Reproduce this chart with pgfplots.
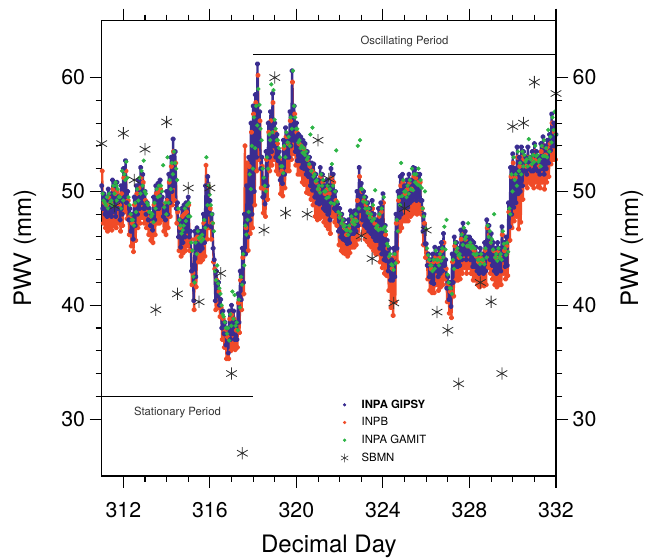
\documentclass[border=0pt]{standalone}
\usepackage{fontspec}
\setmainfont{TeX Gyre Heros}
\usepackage{pgfplots}
\pgfplotsset{compat=1.18}
\definecolor{gipsy}{RGB}{58,45,145}
\definecolor{inpb}{RGB}{240,75,40}
\definecolor{gamit}{RGB}{45,180,70}
\definecolor{sbmn}{RGB}{45,45,45}

\pgfplotsset{
  pwvaxis/.style={
    width=340.7pt, height=341.5pt, scale only axis,
    xmin=311, xmax=332, ymin=25, ymax=65,
    xtick={312,316,...,332}, minor x tick num=3,
    ytick={30,40,50,60}, minor y tick num=4,
    tick align=outside,
    major tick length=9pt, minor tick length=4.5pt,
    axis line style={line width=1.1pt},
    every tick/.style={black, line width=0.8pt},
    /pgf/number format/assume math mode=true,
    ticklabel style={font=\fontsize{16}{16}\selectfont},
    label style={font=\fontsize{18}{18}\selectfont},
  }
}

\begin{document}
\begin{tikzpicture}
\begin{axis}[pwvaxis, name=ax, clip=false,
    xtick pos=both, ytick pos=both,
    xticklabel pos=lower, yticklabel pos=left,
    xticklabel style={yshift=-7pt},
    xlabel={Decimal Day},
    xlabel style={at={(axis description cs:0.5,-0.1685)}, anchor=base},
    ylabel={PWV (mm)},
    ylabel style={at={(axis description cs:-0.169,0.5)}, anchor=center, rotate=0},
    legend style={at={(axis cs:321.86,32.2)}, anchor=north west, draw=none, fill=none,
      font=\fontsize{8.5}{9}\selectfont, row sep=1.5pt,
      /tikz/every odd column/.append style={column sep=8pt}},
    legend cell align=left,
]
\addlegendimage{only marks, mark=*, color=gipsy, mark size=1pt}
\addlegendentry{\textbf{INPA GIPSY}}
\addlegendimage{only marks, mark=*, color=inpb, mark size=1pt}
\addlegendentry{INPB}
\addlegendimage{only marks, mark=*, color=gamit, mark size=1pt}
\addlegendentry{INPA GAMIT}
\addlegendimage{only marks, mark=asterisk, color=sbmn, mark size=3.2pt}
\addlegendentry{SBMN}

% INPB
\addplot[forget plot, color=inpb, line width=1.7pt, line join=round, mark=*, mark size=1.2pt] coordinates {
(311.02,51.8)(311.07,47.2)(311.12,49.0)(311.17,46.8)(311.22,48.8)(311.27,46.5)(311.32,49.5)(311.37,46.8)(311.42,49.0)(311.47,46.6)
(311.52,50.2)(311.57,47.0)(311.62,49.8)(311.67,46.8)(311.72,50.0)(311.77,47.2)(311.82,48.8)(311.87,46.5)(311.92,49.8)(311.97,47.0)
(312.02,51.2)(312.07,48.2)(312.12,51.8)(312.17,47.6)(312.22,49.2)(312.27,46.2)(312.32,47.8)(312.37,45.2)(312.42,47.2)(312.47,44.7)
(312.52,48.8)(312.57,45.7)(312.62,49.8)(312.67,46.8)(312.72,50.3)(312.77,47.2)(312.82,51.2)(312.87,47.7)(312.92,50.8)(312.97,47.2)
(313.02,49.2)(313.07,46.8)(313.12,48.2)(313.17,46.2)(313.22,47.8)(313.27,45.7)(313.32,47.2)(313.37,45.5)(313.42,48.8)(313.47,46.2)
(313.52,49.8)(313.57,47.2)(313.62,50.0)(313.67,47.2)(313.72,50.2)(313.77,47.5)(313.82,48.8)(313.87,46.5)(313.92,47.8)(313.97,46.2)
(314.02,49.2)(314.07,46.8)(314.12,50.8)(314.17,47.8)(314.22,52.2)(314.27,48.8)(314.32,53.5)(314.37,49.2)(314.42,52.5)(314.47,47.2)
(314.52,48.2)(314.57,44.8)(314.62,46.8)(314.67,44.3)(314.72,47.8)(314.77,44.6)(314.82,48.0)(314.87,44.8)(314.92,48.2)(314.97,45.2)
(315.02,48.8)(315.07,44.8)(315.12,45.8)(315.17,41.8)(315.22,42.8)(315.27,39.6)(315.32,45.8)(315.37,41.6)(315.42,46.0)(315.47,43.8)
(315.52,45.8)(315.57,43.8)(315.62,45.8)(315.67,44.0)(315.72,47.2)(315.77,44.3)(315.82,52.3)(315.87,45.8)(315.92,50.5)(315.97,46.8)
(316.02,48.5)(316.07,45.8)(316.12,47.2)(316.17,43.8)(316.22,43.2)(316.27,39.6)(316.32,42.2)(316.37,39.8)(316.42,41.2)(316.47,39.0)
(316.52,39.8)(316.57,37.0)(316.62,38.8)(316.67,36.3)(316.72,37.8)(316.77,35.3)(316.82,37.2)(316.87,35.3)(316.92,38.8)(316.97,36.0)
(317.02,39.2)(317.07,36.3)(317.12,38.8)(317.17,36.1)(317.22,37.8)(317.27,36.3)(317.32,40.2)(317.37,37.6)(317.42,42.2)(317.47,39.6)
(317.52,44.2)(317.57,41.0)(317.62,54.0)(317.67,46.8)(317.72,52.5)(317.77,44.8)(317.82,52.2)(317.87,46.3)(317.92,55.2)(317.97,46.8)
(318.02,56.8)(318.07,48.8)(318.12,57.8)(318.17,51.8)(318.22,60.2)(318.27,52.8)(318.32,56.2)(318.37,50.3)(318.42,52.2)(318.47,48.1)
(318.52,50.2)(318.57,47.8)(318.62,52.8)(318.67,49.3)(318.72,55.2)(318.77,51.8)(318.82,56.2)(318.87,52.3)(318.92,57.8)(318.97,52.8)
(319.02,55.2)(319.07,51.8)(319.12,54.2)(319.17,51.5)(319.22,52.8)(319.27,49.8)(319.32,51.8)(319.37,49.6)(319.42,53.8)(319.47,50.3)
(319.52,54.8)(319.57,51.8)(319.62,54.2)(319.67,51.8)(319.72,56.2)(319.77,52.8)(319.82,59.6)(319.87,53.3)(319.92,56.8)(319.97,52.3)
(320.02,55.2)(320.07,51.5)(320.12,54.2)(320.17,51.5)(320.22,54.0)(320.27,50.8)(320.32,53.8)(320.37,50.6)(320.42,53.5)(320.47,49.9)
(320.52,52.8)(320.57,49.8)(320.62,52.2)(320.67,49.3)(320.72,51.8)(320.77,48.8)(320.82,51.6)(320.87,47.8)(320.92,50.8)(320.97,47.5)
(321.02,50.2)(321.07,47.6)(321.12,51.3)(321.17,47.8)(321.22,50.8)(321.27,47.3)(321.32,49.8)(321.37,47.0)(321.42,50.2)(321.47,46.7)
(321.52,49.8)(321.57,46.3)(321.62,51.2)(321.67,47.8)(321.72,50.8)(321.77,47.3)(321.82,49.2)(321.87,47.0)(321.92,48.2)(321.97,45.3)
(322.02,47.8)(322.07,44.8)(322.12,47.2)(322.17,44.6)(322.22,46.8)(322.27,44.5)(322.32,46.2)(322.37,44.3)(322.42,46.8)(322.47,44.6)
(322.52,47.5)(322.57,45.1)(322.62,47.2)(322.67,45.1)(322.72,47.5)(322.77,45.3)(322.82,49.2)(322.87,45.8)(322.92,51.3)(322.97,47.1)
(323.02,50.0)(323.07,46.3)(323.12,49.2)(323.17,45.8)(323.22,48.8)(323.27,45.6)(323.32,48.2)(323.37,45.3)(323.42,47.8)(323.47,45.1)
(323.52,48.5)(323.57,44.8)(323.62,47.2)(323.67,44.5)(323.72,46.8)(323.77,44.5)(323.82,47.8)(323.87,43.8)(323.92,48.2)(323.97,43.3)
(324.02,49.0)(324.07,42.8)(324.12,46.2)(324.17,42.6)(324.22,45.0)(324.27,41.3)(324.32,44.2)(324.37,39.8)(324.42,43.2)(324.47,39.1)
(324.52,44.2)(324.57,40.3)(324.62,47.2)(324.67,43.8)(324.72,49.2)(324.77,46.5)(324.82,50.5)(324.87,46.8)(324.92,50.8)(324.97,47.4)
(325.02,49.8)(325.07,47.4)(325.12,50.2)(325.17,47.4)(325.22,50.8)(325.27,47.8)(325.32,50.2)(325.37,48.0)(325.42,51.3)(325.47,48.3)
(325.52,51.2)(325.57,48.0)(325.62,50.8)(325.67,48.3)(325.72,50.8)(325.77,48.0)(325.82,48.5)(325.87,45.3)(325.92,47.2)(325.97,44.2)
(326.02,44.6)(326.07,42.3)(326.12,43.8)(326.17,41.3)(326.22,43.2)(326.27,41.1)(326.32,43.8)(326.37,41.1)(326.42,44.3)(326.47,41.8)
(326.52,43.8)(326.57,41.3)(326.62,44.2)(326.67,41.6)(326.72,44.8)(326.77,41.8)(326.82,45.5)(326.87,42.3)(326.92,43.2)(326.97,40.3)
(327.02,41.8)(327.07,39.3)(327.12,41.2)(327.17,38.9)(327.22,43.8)(327.27,40.8)(327.32,45.2)(327.37,42.2)(327.42,44.8)(327.47,42.2)
(327.52,44.2)(327.57,42.3)(327.62,45.8)(327.67,42.8)(327.72,46.5)(327.77,43.3)(327.82,45.8)(327.87,42.8)(327.92,45.2)(327.97,43.3)
(328.02,45.2)(328.07,42.8)(328.12,45.0)(328.17,42.2)(328.22,44.8)(328.27,42.2)(328.32,44.3)(328.37,41.8)(328.42,43.8)(328.47,41.6)
(328.52,44.2)(328.57,41.8)(328.62,43.8)(328.67,41.7)(328.72,44.8)(328.77,41.8)(328.82,46.8)(328.87,43.3)(328.92,46.2)(328.97,42.8)
(329.02,45.5)(329.07,42.3)(329.12,44.8)(329.17,41.8)(329.22,44.2)(329.27,41.6)(329.32,44.8)(329.37,41.8)(329.42,44.2)(329.47,41.8)
(329.52,46.2)(329.57,42.8)(329.62,44.8)(329.67,42.3)(329.72,45.2)(329.77,42.6)(329.82,48.2)(329.87,45.7)(329.92,51.3)(329.97,46.8)
(330.02,52.5)(330.07,47.4)(330.12,51.2)(330.17,47.8)(330.22,53.0)(330.27,46.7)(330.32,52.2)(330.37,47.3)(330.42,53.0)(330.47,49.3)
(330.52,52.8)(330.57,50.6)(330.62,52.2)(330.67,50.3)(330.72,53.0)(330.77,50.8)(330.82,52.2)(330.87,50.6)(330.92,52.8)(330.97,50.3)
(331.02,53.5)(331.07,50.8)(331.12,52.8)(331.17,50.4)(331.22,52.2)(331.27,50.3)(331.32,53.5)(331.37,50.8)(331.42,54.0)(331.47,50.2)
(331.52,53.2)(331.57,50.8)(331.62,53.8)(331.67,51.3)(331.72,54.2)(331.77,52.4)(331.82,56.0)(331.87,52.8)(331.92,55.2)(331.97,52.8)
};

% INPA GIPSY
\addplot[forget plot, color=gipsy, line width=1.7pt, line join=round, mark=*, mark size=1.2pt] coordinates {
(311.00,50.5)(311.05,48.5)(311.10,49.8)(311.15,48.0)(311.20,49.5)(311.25,47.8)(311.30,50.2)(311.35,48.0)(311.40,49.8)(311.45,47.8)
(311.50,51.0)(311.55,48.2)(311.60,50.5)(311.65,47.8)(311.70,50.8)(311.75,48.5)(311.80,49.5)(311.85,47.5)(311.90,50.5)(311.95,48.0)
(312.00,52.0)(312.05,49.5)(312.10,52.7)(312.15,49.0)(312.20,50.0)(312.25,47.5)(312.30,48.5)(312.35,46.5)(312.40,48.0)(312.45,45.8)
(312.50,49.5)(312.55,47.0)(312.60,50.5)(312.65,48.0)(312.70,51.0)(312.75,48.5)(312.80,52.1)(312.85,49.0)(312.90,51.5)(312.95,48.5)
(313.00,50.0)(313.05,48.0)(313.10,49.0)(313.15,47.5)(313.20,48.5)(313.25,47.0)(313.30,48.0)(313.35,46.6)(313.40,49.5)(313.45,47.5)
(313.50,50.5)(313.55,48.5)(313.60,50.7)(313.65,48.5)(313.70,51.0)(313.75,48.8)(313.80,49.5)(313.85,47.8)(313.90,48.5)(313.95,47.5)
(314.00,50.0)(314.05,48.0)(314.10,51.5)(314.15,49.0)(314.20,53.0)(314.25,50.0)(314.30,54.6)(314.35,50.5)(314.40,53.5)(314.45,48.5)
(314.50,49.0)(314.55,46.0)(314.60,47.5)(314.65,45.1)(314.70,48.5)(314.75,45.5)(314.80,48.8)(314.85,46.0)(314.90,49.0)(314.95,46.5)
(315.00,49.5)(315.05,46.0)(315.10,46.5)(315.15,43.0)(315.20,43.5)(315.25,40.4)(315.30,46.5)(315.35,42.5)(315.40,46.8)(315.45,45.0)
(315.50,46.5)(315.55,44.8)(315.60,46.5)(315.65,45.0)(315.70,48.0)(315.75,45.5)(315.80,50.5)(315.85,47.0)(315.90,51.3)(315.95,48.0)
(316.00,49.2)(316.05,46.9)(316.10,48.0)(316.15,45.0)(316.20,44.0)(316.25,40.4)(316.30,43.0)(316.35,40.8)(316.40,42.0)(316.45,40.0)
(316.50,40.5)(316.55,38.0)(316.60,39.5)(316.65,37.5)(316.70,38.5)(316.75,36.5)(316.80,38.0)(316.85,35.8)(316.90,39.5)(316.95,37.0)
(317.00,40.0)(317.05,37.5)(317.10,39.5)(317.15,37.0)(317.20,38.5)(317.25,37.0)(317.30,41.0)(317.35,38.5)(317.40,43.0)(317.45,40.5)
(317.50,45.0)(317.55,42.0)(317.60,48.0)(317.65,44.5)(317.70,50.5)(317.75,46.0)(317.80,53.0)(317.85,47.5)(317.90,56.0)(317.95,48.0)
(318.00,57.5)(318.05,50.0)(318.10,58.5)(318.15,53.0)(318.20,61.2)(318.25,54.0)(318.30,57.0)(318.35,52.0)(318.40,53.0)(318.45,49.5)
(318.50,51.0)(318.55,48.9)(318.60,53.5)(318.65,50.5)(318.70,56.0)(318.75,53.0)(318.80,57.0)(318.85,53.5)(318.90,58.6)(318.95,54.0)
(319.00,56.0)(319.05,53.0)(319.10,55.0)(319.15,52.7)(319.20,53.5)(319.25,51.0)(319.30,52.5)(319.35,50.7)(319.40,54.5)(319.45,51.5)
(319.50,55.6)(319.55,53.0)(319.60,55.0)(319.65,53.0)(319.70,57.0)(319.75,54.0)(319.80,60.6)(319.85,54.5)(319.90,57.5)(319.95,53.5)
(320.00,56.0)(320.05,52.7)(320.10,55.0)(320.15,52.7)(320.20,54.8)(320.25,52.1)(320.30,54.5)(320.35,52.0)(320.40,54.2)(320.45,51.5)
(320.50,53.5)(320.55,51.3)(320.60,53.0)(320.65,50.5)(320.70,52.5)(320.75,50.1)(320.80,52.4)(320.85,49.5)(320.90,51.5)(320.95,49.0)
(321.00,51.0)(321.05,48.9)(321.10,52.1)(321.15,49.0)(321.20,51.5)(321.25,48.5)(321.30,50.5)(321.35,48.3)(321.40,51.0)(321.45,48.0)
(321.50,50.5)(321.55,47.5)(321.60,52.0)(321.65,49.0)(321.70,51.5)(321.75,48.5)(321.80,50.0)(321.85,48.3)(321.90,48.9)(321.95,46.5)
(322.00,48.5)(322.05,46.0)(322.10,48.0)(322.15,45.8)(322.20,47.5)(322.25,45.7)(322.30,47.0)(322.35,45.4)(322.40,47.5)(322.45,45.5)
(322.50,48.3)(322.55,46.3)(322.60,48.0)(322.65,46.3)(322.70,48.3)(322.75,46.5)(322.80,50.0)(322.85,47.0)(322.90,52.1)(322.95,48.3)
(323.00,50.7)(323.05,47.5)(323.10,50.0)(323.15,47.0)(323.20,49.5)(323.25,46.8)(323.30,49.0)(323.35,46.5)(323.40,48.5)(323.45,46.3)
(323.50,49.2)(323.55,46.0)(323.60,48.0)(323.65,45.7)(323.70,47.5)(323.75,45.7)(323.80,48.5)(323.85,45.0)(323.90,49.0)(323.95,44.5)
(324.00,49.8)(324.05,44.0)(324.10,47.0)(324.15,43.9)(324.20,45.7)(324.25,43.0)(324.30,45.0)(324.35,42.2)(324.40,44.0)(324.45,42.2)
(324.50,45.0)(324.55,42.5)(324.60,48.0)(324.65,45.0)(324.70,50.0)(324.75,47.7)(324.80,51.3)(324.85,48.0)(324.90,51.5)(324.95,48.6)
(325.00,50.5)(325.05,48.6)(325.10,51.0)(325.15,48.6)(325.20,51.5)(325.25,49.0)(325.30,51.0)(325.35,49.2)(325.40,52.1)(325.45,49.5)
(325.50,52.0)(325.55,49.2)(325.60,51.5)(325.65,49.5)(325.70,51.5)(325.75,49.2)(325.80,49.2)(325.85,46.5)(325.90,48.0)(325.95,45.4)
(326.00,45.4)(326.05,43.5)(326.10,44.5)(326.15,42.5)(326.20,44.0)(326.25,42.0)(326.30,44.5)(326.35,41.9)(326.40,45.1)(326.45,43.0)
(326.50,44.5)(326.55,42.5)(326.60,45.0)(326.65,42.8)(326.70,45.5)(326.75,43.0)(326.80,46.3)(326.85,43.5)(326.90,44.0)(326.95,41.5)
(327.00,42.5)(327.05,40.5)(327.10,42.0)(327.15,39.9)(327.20,44.5)(327.25,42.0)(327.30,46.0)(327.35,43.4)(327.40,45.5)(327.45,43.4)
(327.50,45.0)(327.55,43.5)(327.60,46.6)(327.65,44.0)(327.70,47.2)(327.75,44.5)(327.80,46.5)(327.85,44.0)(327.90,46.0)(327.95,44.5)
(328.00,46.0)(328.05,44.0)(328.10,45.7)(328.15,43.4)(328.20,45.5)(328.25,43.4)(328.30,45.1)(328.35,43.0)(328.40,44.5)(328.45,42.8)
(328.50,45.0)(328.55,43.0)(328.60,44.5)(328.65,42.8)(328.70,45.5)(328.75,43.0)(328.80,47.5)(328.85,44.5)(328.90,47.0)(328.95,44.0)
(329.00,46.3)(329.05,43.5)(329.10,45.5)(329.15,43.0)(329.20,45.0)(329.25,42.8)(329.30,45.5)(329.35,43.0)(329.40,45.0)(329.45,43.0)
(329.50,46.9)(329.55,44.0)(329.60,45.5)(329.65,43.4)(329.70,46.0)(329.75,43.5)(329.80,49.0)(329.85,46.9)(329.90,52.1)(329.95,48.0)
(330.00,53.3)(330.05,48.6)(330.10,52.0)(330.15,49.0)(330.20,53.9)(330.25,49.8)(330.30,53.0)(330.35,50.0)(330.40,53.9)(330.45,50.5)
(330.50,53.5)(330.55,51.8)(330.60,53.0)(330.65,51.5)(330.70,53.9)(330.75,52.0)(330.80,53.0)(330.85,51.8)(330.90,53.5)(330.95,51.8)
(331.00,54.2)(331.05,52.0)(331.10,53.5)(331.15,51.8)(331.20,53.0)(331.25,51.5)(331.30,54.2)(331.35,52.0)(331.40,54.8)(331.45,51.5)
(331.50,54.0)(331.55,52.0)(331.60,54.5)(331.65,52.5)(331.70,55.0)(331.75,53.6)(331.80,56.8)(331.85,54.0)(331.90,56.0)(331.95,54.0)
(332.00,55.0)
};

% INPA GAMIT
\addplot[forget plot, only marks, color=gamit, mark=*, mark size=1.4pt] coordinates {
(311.04,49.8)(311.14,49.0)(311.24,49.5)(311.34,49.8)(311.44,49.2)(311.54,50.5)(311.64,50.8)(311.69,50.5)(311.74,50.2)(311.84,49.5)(311.94,51.8)
(312.04,51.5)(312.14,52.6)(312.24,49.5)(312.34,48.0)(312.44,47.5)(312.54,49.0)(312.64,50.2)(312.74,51.2)(312.84,51.8)(312.94,52.7)
(313.04,49.8)(313.14,48.8)(313.24,48.2)(313.34,48.0)(313.44,49.0)(313.54,50.2)(313.64,50.5)(313.74,50.5)(313.84,52.3)(313.94,49.0)
(314.04,53.0)(314.14,51.0)(314.24,52.5)(314.34,53.5)(314.44,52.0)(314.54,48.5)(314.64,47.0)(314.74,46.6)(314.84,48.5)(314.94,48.8)
(315.04,49.0)(315.14,45.5)(315.24,42.5)(315.34,45.5)(315.44,46.5)(315.54,46.0)(315.64,46.2)(315.74,47.5)(315.84,53.0)(315.94,50.5)
(316.04,48.8)(316.14,47.2)(316.24,43.0)(316.34,43.5)(316.44,41.5)(316.54,40.0)(316.64,39.0)(316.74,38.0)(316.84,38.0)(316.94,39.2)
(317.04,41.2)(317.14,40.9)(317.24,38.5)(317.34,40.5)(317.44,42.5)(317.54,44.5)(317.64,47.0)(317.74,47.5)(317.84,51.5)(317.94,54.0)
(318.04,56.5)(318.14,57.5)(318.24,59.0)(318.34,55.5)(318.44,52.0)(318.54,50.5)(318.64,53.0)(318.74,55.0)(318.84,59.4)(318.94,58.9)
(319.04,55.5)(319.14,54.5)(319.24,53.0)(319.34,52.2)(319.44,54.0)(319.54,55.2)(319.64,54.8)(319.74,56.5)(319.84,60.6)(319.94,56.5)
(320.04,55.5)(320.14,54.5)(320.24,54.0)(320.34,53.8)(320.44,53.5)(320.54,53.0)(320.64,55.0)(320.74,55.6)(320.84,51.5)(320.94,51.0)
(321.04,50.5)(321.14,51.5)(321.24,51.0)(321.34,50.0)(321.44,50.5)(321.54,50.2)(321.64,52.4)(321.74,48.9)(321.84,53.6)(321.94,48.2)
(322.04,48.0)(322.14,47.5)(322.24,47.0)(322.34,46.6)(322.44,47.0)(322.54,47.8)(322.64,47.5)(322.74,48.0)(322.84,54.0)(322.94,54.5)
(323.04,50.2)(323.14,49.5)(323.24,49.0)(323.34,48.5)(323.44,48.0)(323.54,48.8)(323.64,50.1)(323.74,47.0)(323.84,48.0)(323.94,48.5)
(324.04,49.5)(324.14,46.5)(324.24,45.2)(324.34,44.5)(324.44,43.5)(324.54,44.5)(324.64,47.5)(324.74,49.5)(324.84,52.5)(324.94,51.0)
(325.04,50.0)(325.14,50.5)(325.24,51.0)(325.34,52.0)(325.44,51.5)(325.54,51.5)(325.64,52.0)(325.74,51.0)(325.84,48.5)(325.94,50.0)
(326.04,45.0)(326.14,44.0)(326.24,43.5)(326.34,44.0)(326.44,44.8)(326.54,44.0)(326.64,44.5)(326.74,45.0)(326.84,46.9)(326.94,47.5)
(327.04,42.0)(327.14,41.5)(327.24,44.0)(327.34,45.5)(327.44,45.0)(327.54,44.5)(327.64,46.2)(327.74,46.8)(327.84,46.0)(327.94,47.2)
(328.04,45.5)(328.14,45.2)(328.24,45.0)(328.34,44.5)(328.44,44.0)(328.54,44.5)(328.64,44.0)(328.74,45.0)(328.84,47.0)(328.94,46.5)
(329.04,45.8)(329.14,48.0)(329.24,44.5)(329.34,45.0)(329.44,44.5)(329.54,46.5)(329.64,45.0)(329.74,45.5)(329.84,48.5)(329.94,51.5)
(330.04,53.0)(330.14,51.5)(330.24,53.5)(330.34,52.5)(330.44,53.5)(330.54,53.2)(330.64,52.8)(330.74,54.6)(330.84,52.8)(330.94,53.2)
(331.04,54.0)(331.14,53.2)(331.24,52.8)(331.34,54.0)(331.44,54.5)(331.54,53.8)(331.64,55.4)(331.74,54.8)(331.84,56.5)(331.94,57.0)
(311.09,49.2)(311.19,48.8)(311.29,48.5)(311.39,49.0)(311.49,48.8)(311.59,49.8)(311.69,49.2)(311.79,49.5)(311.89,48.5)(311.99,49.2)
(312.09,51.0)(312.19,51.2)(312.29,48.8)(312.39,47.5)(312.49,47.0)(312.59,48.2)(312.69,49.2)(312.79,49.8)(312.89,50.5)(312.99,50.0)
(313.09,49.0)(313.19,48.2)(313.29,47.8)(313.39,47.3)(313.49,48.5)(313.59,49.5)(313.69,49.6)(313.79,50.0)(313.89,48.6)(313.99,48.0)
(314.09,49.0)(314.19,50.2)(314.29,51.5)(314.39,52.5)(314.49,51.0)(314.59,47.5)(314.69,46.3)(314.79,47.0)(314.89,47.4)(314.99,47.8)
(315.09,47.8)(315.19,44.8)(315.29,42.0)(315.39,44.5)(315.49,45.9)(315.59,45.6)(315.69,45.8)(315.79,46.8)(315.89,48.8)(315.99,49.7)
(316.09,48.0)(316.19,46.5)(316.29,42.2)(316.39,41.9)(316.49,41.0)(316.59,39.2)(316.69,38.5)(316.79,37.5)(316.89,36.9)(316.99,38.2)
(317.09,38.8)(317.19,38.2)(317.29,37.8)(317.39,39.8)(317.49,41.8)(317.59,43.5)(317.69,46.2)(317.79,48.2)(317.89,50.2)(317.99,52.0)
(318.09,53.8)(318.19,55.8)(318.29,57.6)(318.39,54.5)(318.49,51.2)(318.59,50.0)(318.69,52.0)(318.79,54.5)(318.89,55.2)(318.99,56.3)
(319.09,54.5)(319.19,53.8)(319.29,52.2)(319.39,51.6)(319.49,53.0)(319.59,54.3)(319.69,54.0)(319.79,55.5)(319.89,57.5)(319.99,55.5)
(320.09,54.3)(320.19,53.8)(320.29,53.4)(320.39,53.2)(320.49,52.8)(320.59,52.4)(320.69,51.8)(320.79,51.3)(320.89,50.9)(320.99,50.2)
(321.09,49.9)(321.19,50.5)(321.29,50.0)(321.39,49.4)(321.49,49.5)(321.59,49.0)(321.69,50.5)(321.79,50.0)(321.89,49.1)(321.99,47.7)
(322.09,47.2)(322.19,46.9)(322.29,46.6)(322.39,46.2)(322.49,46.5)(322.59,47.3)(322.69,47.1)(322.79,47.4)(322.89,48.5)(322.99,50.2)
(323.09,49.1)(323.19,48.5)(323.29,48.1)(323.39,47.7)(323.49,47.4)(323.59,47.6)(323.69,46.8)(323.79,46.6)(323.89,46.7)(323.99,46.7)
(324.09,46.9)(324.19,45.4)(324.29,44.3)(324.39,43.6)(324.49,43.1)(324.59,43.7)(324.69,46.5)(324.79,48.8)(324.89,49.6)(324.99,50.0)
(325.09,49.5)(325.19,49.8)(325.29,50.2)(325.39,50.1)(325.49,50.8)(325.59,50.6)(325.69,50.5)(325.79,50.3)(325.89,47.8)(325.99,46.7)
(326.09,44.4)(326.19,43.5)(326.29,43.0)(326.39,43.2)(326.49,44.0)(326.59,43.5)(326.69,43.9)(326.79,44.2)(326.89,44.9)(326.99,42.7)
(327.09,41.5)(327.19,41.0)(327.29,43.2)(327.39,44.7)(327.49,44.4)(327.59,44.2)(327.69,45.3)(327.79,45.8)(327.89,45.2)(327.99,45.2)
(328.09,45.0)(328.19,44.5)(328.29,44.4)(328.39,44.0)(328.49,43.6)(328.59,44.0)(328.69,43.6)(328.79,44.2)(328.89,46.0)(328.99,45.5)
(329.09,44.9)(329.19,44.2)(329.29,43.9)(329.39,44.2)(329.49,44.0)(329.59,45.4)(329.69,44.4)(329.79,44.7)(329.89,48.0)(329.99,50.0)
(330.09,51.0)(330.19,50.5)(330.29,51.8)(330.39,51.5)(330.49,52.2)(330.59,52.6)(330.69,52.2)(330.79,53.0)(330.89,52.4)(330.99,52.6)
(331.09,53.1)(331.19,52.6)(331.29,52.2)(331.39,53.1)(331.49,53.1)(331.59,53.0)(331.69,53.5)(331.79,54.3)(331.89,55.4)(331.99,55.0)
};

% SBMN
\addplot[forget plot, only marks, mark=asterisk, mark size=4.6pt, color=sbmn, mark options={line width=0.6pt}] coordinates {
(311.0,54.2)(311.6,48.7)(312.0,55.1)(312.5,51.0)(313.0,53.7)(313.5,39.6)(314.0,56.1)(314.5,41.0)
(315.0,50.3)(315.5,40.3)(316.0,50.3)(316.5,42.8)(317.0,34.0)(317.5,27.0)(318.5,46.6)(319.0,60.0)
(319.5,48.1)(320.5,48.0)(321.0,54.5)(321.5,51.1)(323.0,46.1)(323.5,44.1)(324.5,40.2)(325.0,48.5)
(326.0,46.6)(326.5,39.4)(327.0,37.8)(327.5,33.1)(328.5,42.0)(329.0,40.3)(329.5,34.0)(330.0,55.7)
(330.5,56.0)(331.0,59.6)(332.0,58.6)
};

% period markers
\addplot[forget plot, black, line width=0.7pt] coordinates {(318,62) (332,62)};
\addplot[forget plot, black, line width=0.7pt] coordinates {(311,32) (318,32)};
\node[font=\fontsize{8.5}{9}\selectfont, text=black!80] at (axis cs:325,63.2) {Oscillating Period};
\node[font=\fontsize{8.5}{9}\selectfont, text=black!80] at (axis cs:314.5,30.6) {Stationary Period};
\end{axis}

\begin{axis}[pwvaxis,
    axis x line=none, axis y line*=right,
    yticklabel pos=right,
    ylabel={PWV (mm)},
    ylabel style={at={(axis description cs:1.167,0.5)}, anchor=center, rotate=0},
]
\end{axis}

\pgfresetboundingbox
\path[use as bounding box] ([shift={(-76.3pt,-61.5pt)}]ax.south west) rectangle ([shift={(75pt,15.5pt)}]ax.north east);
\end{tikzpicture}
\end{document}
